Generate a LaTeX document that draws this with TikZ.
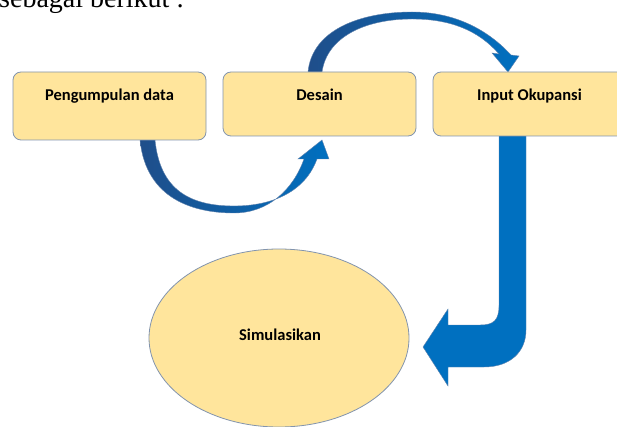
\documentclass[tikz,border=0pt]{standalone}
\usepackage{fontspec}
\setmainfont{Liberation Serif}
\newfontfamily\boxfont{Carlito}
\usetikzlibrary{shapes.geometric}
\definecolor{boxfill}{HTML}{FFE59C}
\definecolor{boxline}{HTML}{8294AE}
\definecolor{arrowblue}{HTML}{0070C0}
\definecolor{arrowdark}{HTML}{1F4E8A}

\begin{document}
\begin{tikzpicture}[x=1pt,y=-1pt,
  box/.style={draw=boxline, fill=boxfill, line width=0.8pt, rounded corners=8pt, minimum width=193pt},
  lbl/.style={font=\boxfont\bfseries\fontsize{16.5}{18}\selectfont, anchor=base, inner sep=0pt},
  blockarrow/.style={draw=arrowdark!70, line width=0.4pt}]
\useasboundingbox (0,0) rectangle (617,427);
\node[anchor=base west, inner sep=0pt, font=\fontsize{28}{30}\selectfont] (judul) at (-1,7.5) {sebagai berikut :};

% arrows
\shadedraw[blockarrow, left color=arrowdark, right color=arrowblue]
  (140,140) .. controls (146,200) and (195,213) .. (234,213)
  .. controls (268,213) and (293,190) .. (304,159) -- (298,159) -- (322,140) -- (329,159) -- (317,159)
  .. controls (305,192) and (272,206) .. (234,206)
  .. controls (190,206) and (160,190) .. (155,140) -- cycle;
\shadedraw[blockarrow, left color=arrowdark, right color=arrowblue]
  (308,72) .. controls (312,30) and (360,12) .. (412,12)
  .. controls (455,12) and (488,30) .. (511,55) -- (519,56) -- (508,72) -- (492,53) -- (499,54)
  .. controls (478,30) and (450,19) .. (412,19)
  .. controls (365,19) and (327,37) .. (322,72) -- cycle;
\filldraw[blockarrow, fill=arrowblue]
  (499,136) -- (499,305) .. controls (499,320) and (494,325) .. (480,325) -- (448,325) -- (448,309)
  -- (423,347) -- (448,386) -- (448,367) -- (484,367)
  .. controls (510,367) and (526,352) .. (526,330) -- (526,136) -- cycle;

% boxes
\node[box, minimum height=68pt] (pengumpulan) at (109.5,106) {};
\node[lbl] (pengumpulan-t) at (109.5,101) {Pengumpulan data};
\node[box, minimum height=64pt] (desain) at (319.5,104) {};
\node[lbl] (desain-t) at (319.5,101) {Desain};
\node[box, minimum height=64pt] (input) at (529.5,104) {};
\node[lbl] (input-t) at (529.5,101) {Input Okupansi};
\node[ellipse, draw=boxline, fill=boxfill, line width=0.8pt, minimum width=260pt, minimum height=178pt] (simulasi) at (279,338) {};
\node[lbl] (simulasi-t) at (280,340) {Simulasikan};

\end{tikzpicture}
\end{document}
